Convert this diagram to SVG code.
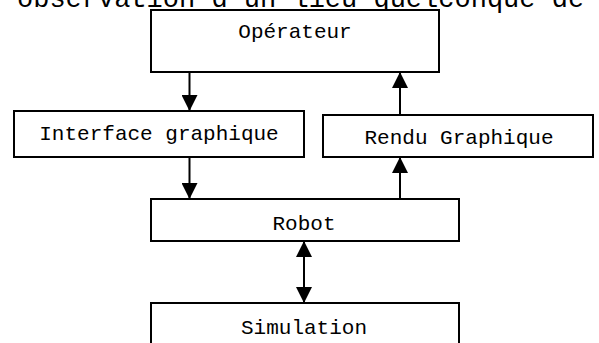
<svg xmlns="http://www.w3.org/2000/svg" width="599" height="343" viewBox="0 0 599 343">
<style>
.box{fill:#fff;stroke:#000;stroke-width:2}
.lbl{font-family:"Liberation Mono","Courier New",monospace;font-size:21px;fill:#000;text-anchor:middle}
.top{font-family:"Liberation Mono","Courier New",monospace;font-size:27px;fill:#000}
.edge{stroke:#000;stroke-width:2;fill:none}
</style>
<defs>
<marker id="ah" markerUnits="userSpaceOnUse" markerWidth="16" markerHeight="16" refX="16" refY="8" orient="auto-start-reverse" viewBox="0 0 16 16">
<path d="M0,0 L16,8 L0,16 Z" fill="#000"/>
</marker>
</defs>
<rect width="599" height="343" fill="#fff"/>
<text class="top" x="17" y="7">observation d'un lieu quelconque de</text>
<g id="operateur"><rect class="box" x="151" y="10" width="288" height="62"/><text class="lbl" x="295" y="38">Opérateur</text></g>
<g id="interface"><rect class="box" x="14" y="111" width="290" height="46"/><text class="lbl" x="159" y="140">Interface graphique</text></g>
<g id="rendu"><rect class="box" x="323" y="115" width="270" height="42"/><text class="lbl" x="459" y="144">Rendu Graphique</text></g>
<g id="robot"><rect class="box" x="151" y="199" width="308" height="42"/><text class="lbl" x="304" y="230">Robot</text></g>
<g id="simulation"><rect class="box" x="151" y="303" width="308" height="50"/><text class="lbl" x="304" y="334">Simulation</text></g>
<g id="connectors">
<line class="edge" x1="189.5" y1="72" x2="189.5" y2="111" marker-end="url(#ah)"/>
<line class="edge" x1="400" y1="115" x2="400" y2="72" marker-end="url(#ah)"/>
<line class="edge" x1="189.5" y1="157" x2="189.5" y2="199" marker-end="url(#ah)"/>
<line class="edge" x1="400" y1="199" x2="400" y2="157" marker-end="url(#ah)"/>
<line class="edge" x1="304" y1="241" x2="304" y2="303" marker-start="url(#ah)" marker-end="url(#ah)"/>
</g>
</svg>
